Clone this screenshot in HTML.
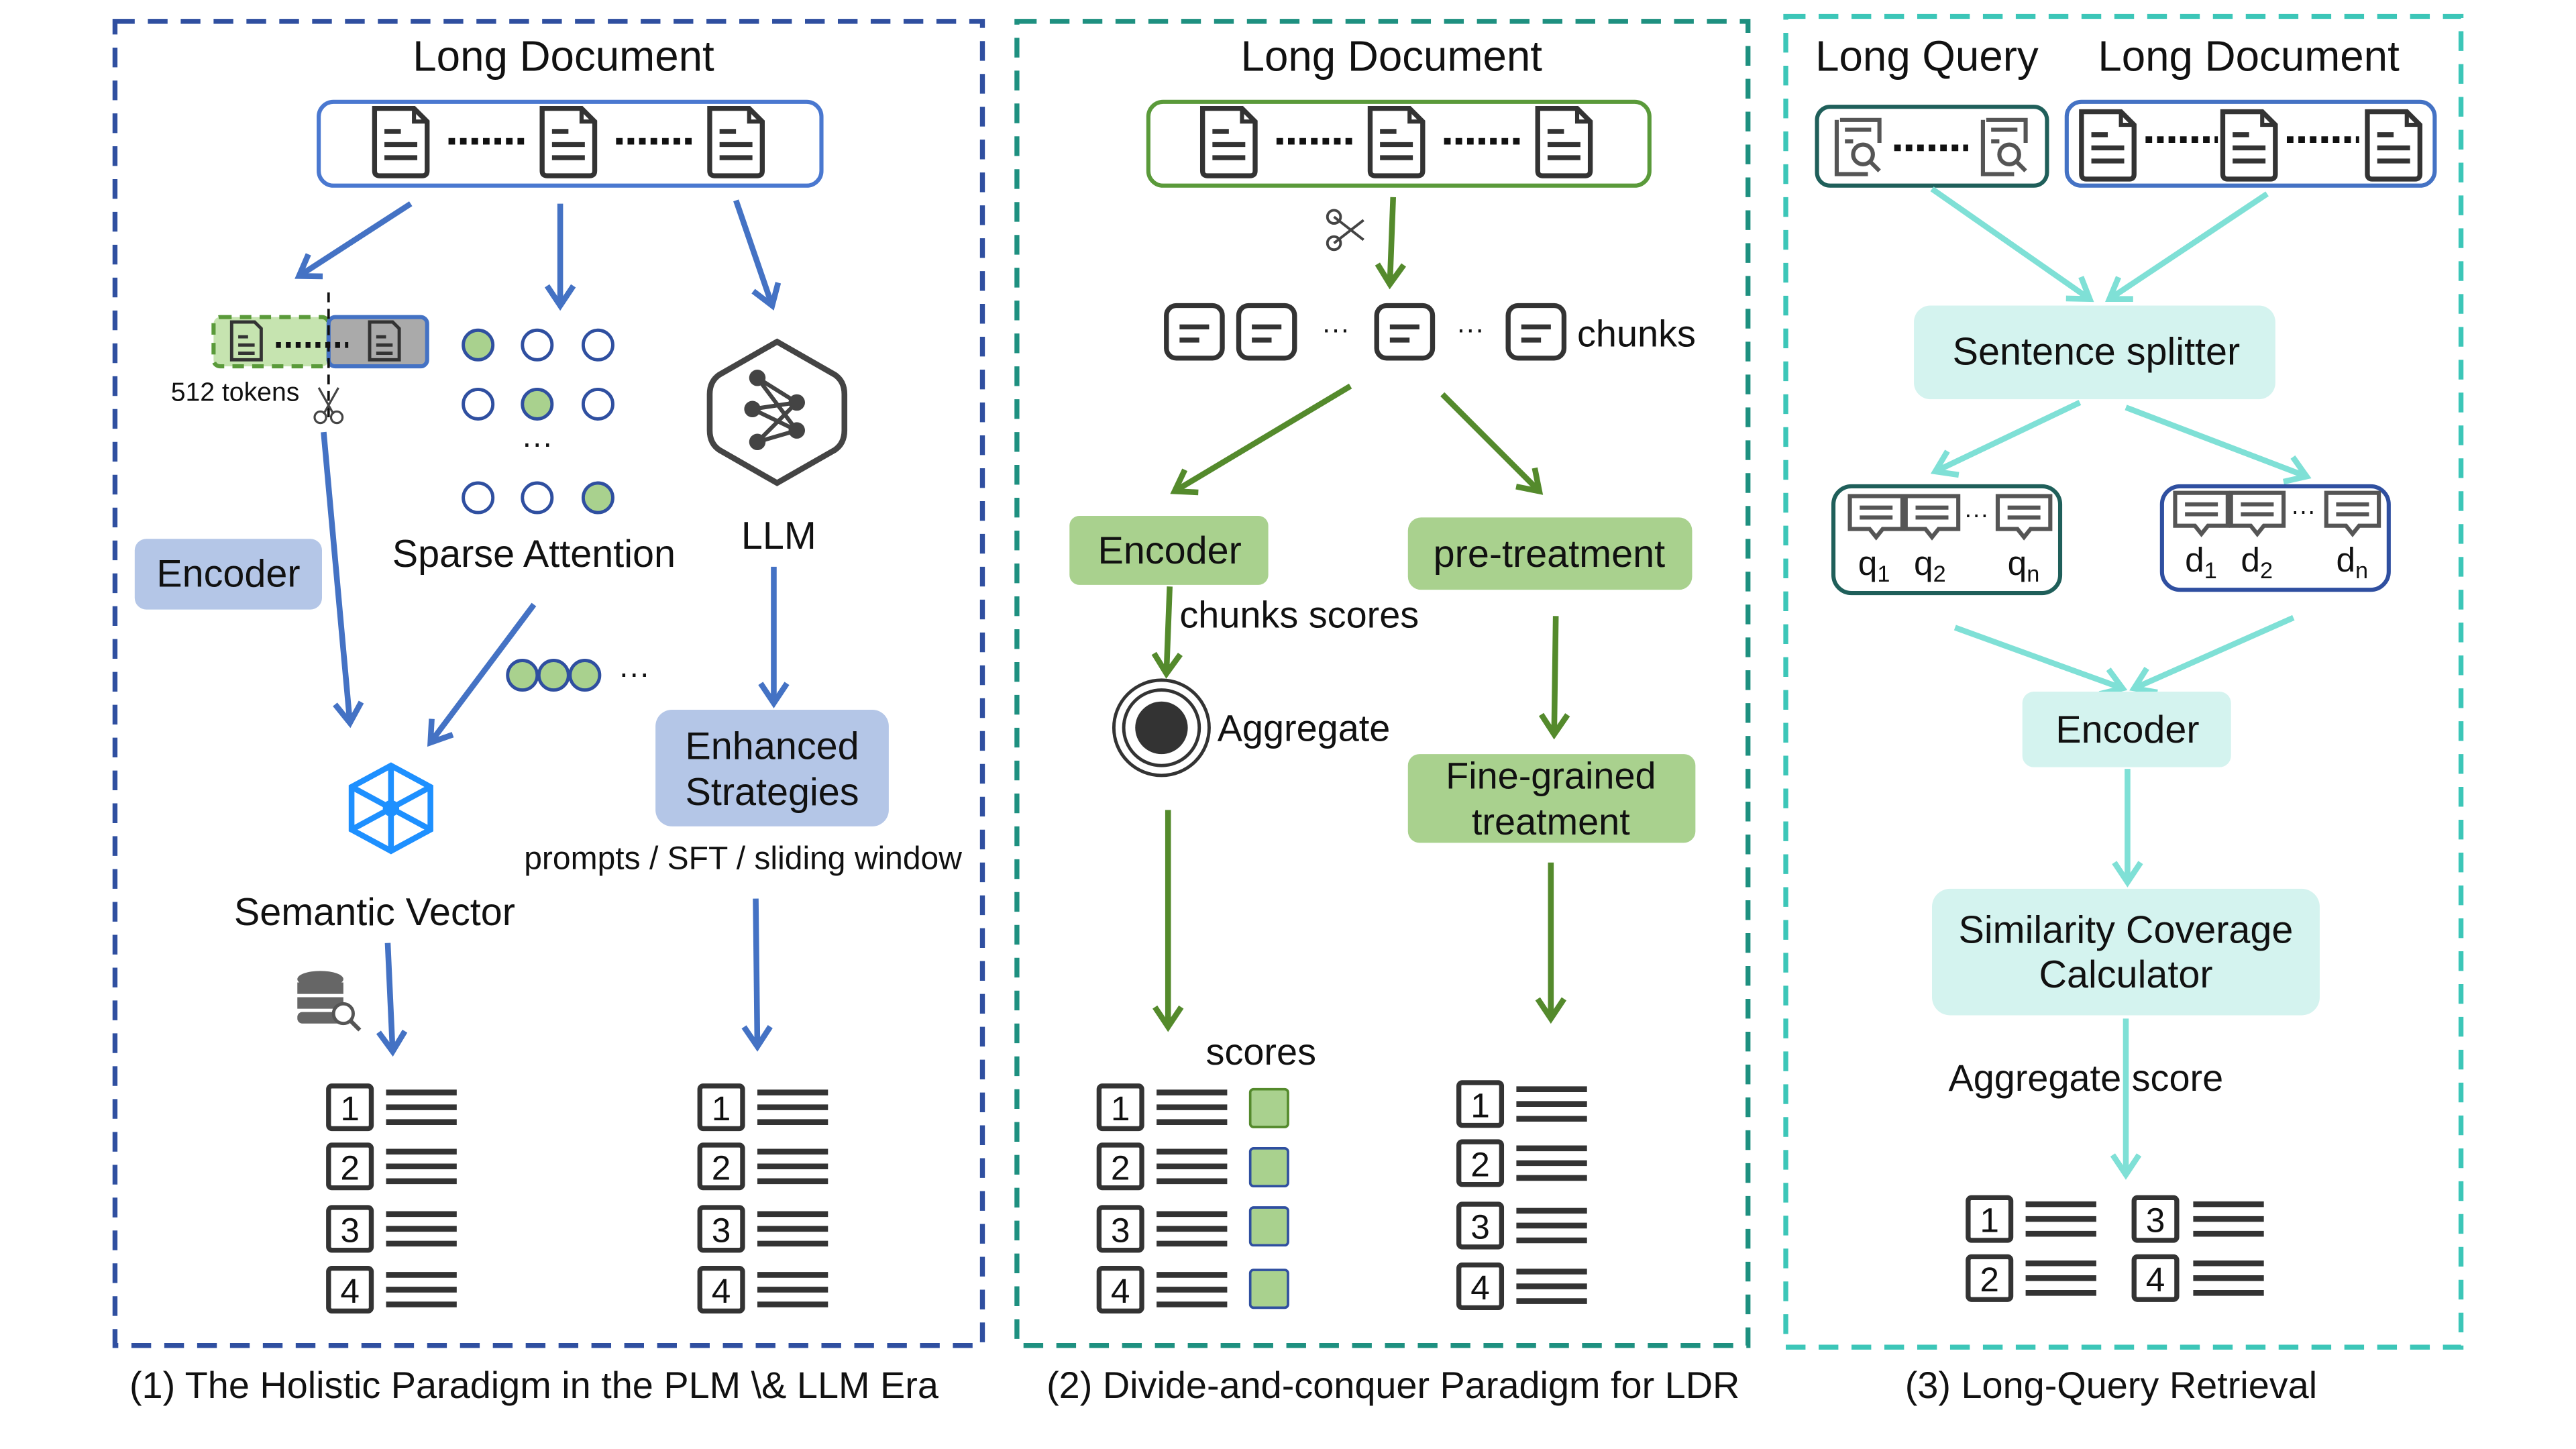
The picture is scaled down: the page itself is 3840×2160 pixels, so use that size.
<!DOCTYPE html>
<html><head><meta charset="utf-8"><style>
html,body{margin:0;padding:0;background:#fff;}
svg{display:block;}
text{font-family:"Liberation Sans",Arial,sans-serif;fill:#111;}
</style></head><body>
<svg width="3840" height="2160" viewBox="0 0 1568 882" preserveAspectRatio="none" xmlns="http://www.w3.org/2000/svg">
<defs>
<marker id="mb" markerUnits="userSpaceOnUse" markerWidth="30" markerHeight="30" refX="15" refY="15" orient="auto"><path d="M3,7 L15,15 L3,23" fill="none" stroke="#4472c4" stroke-width="3.5"/></marker>
<marker id="mg" markerUnits="userSpaceOnUse" markerWidth="30" markerHeight="30" refX="15" refY="15" orient="auto"><path d="M3,7 L15,15 L3,23" fill="none" stroke="#548a2c" stroke-width="3.5"/></marker>
<marker id="mt" markerUnits="userSpaceOnUse" markerWidth="30" markerHeight="30" refX="15" refY="15" orient="auto"><path d="M3,7 L15,15 L3,23" fill="none" stroke="#7fe0d6" stroke-width="3.5"/></marker>
<g id="doc"><path d="M-16,-20 L8,-20 L16,-12 L16,18 Q16,21 13,21 L-13,21 Q-16,21 -16,18 Z" fill="#fff" stroke="#333" stroke-width="3"/><path d="M8,-20 L8,-12 L16,-12" fill="none" stroke="#333" stroke-width="2.5"/><path d="M-10,-6 H0 M-10,2 H10 M-10,10 H10" stroke="#333" stroke-width="3"/></g>
<g id="sdoc"><path d="M-9,-12 L5,-12 L9,-8 L9,11 L-9,11 Z" fill="none" stroke="#333" stroke-width="2"/><path d="M-5,-3 H1 M-5,2 H5 M-5,7 H5" stroke="#333" stroke-width="2"/></g>
<g id="chunk"><rect x="-17" y="-16" width="34" height="32" rx="6" fill="#fff" stroke="#333" stroke-width="3"/><path d="M-9,-3 H9 M-9,5 H3" stroke="#333" stroke-width="3"/></g>
<g id="lines"><path d="M0,-9 H43 M0,0 H43 M0,9 H43" stroke="#333" stroke-width="3.5"/></g>
<g id="qicon"><path d="M-11,-16 H13 V-2 M-13,-16 V17 H6" fill="none" stroke="#555" stroke-width="2.5"/><path d="M-8,-10 H8 M-8,-3 H-3" stroke="#555" stroke-width="2.5"/><circle cx="3" cy="5" r="6" fill="none" stroke="#555" stroke-width="2.5"/><path d="M7,9 L13,15" stroke="#555" stroke-width="2.5"/></g>
<g id="bub"><path d="M-16,-14 H16 V6 H4 L0,11 L-4,6 H-16 Z" fill="#fff" stroke="#555" stroke-width="2.5"/><path d="M-10,-7 H10 M-10,-1 H10" stroke="#555" stroke-width="2.5"/></g>
</defs>

<rect x="70" y="13" width="528" height="806" fill="none" stroke="#2f4fa0" stroke-width="3" stroke-dasharray="12,8"/>
<rect x="619" y="13" width="445" height="806" fill="none" stroke="#1e9080" stroke-width="3" stroke-dasharray="12,8"/>
<rect x="1087" y="10" width="411" height="810" fill="none" stroke="#3cc6b8" stroke-width="3" stroke-dasharray="12,8"/>

<!-- Panel 1 -->
<text x="343" y="43" font-size="26" text-anchor="middle">Long Document</text>
<rect x="194" y="62" width="306" height="51" rx="9" fill="#fff" stroke="#4a78d0" stroke-width="2.5"/>
<use href="#doc" x="244" y="86"/><use href="#doc" x="346" y="86"/><use href="#doc" x="448" y="86"/>
<path d="M273,86 H320 M375,86 H422" stroke="#111" stroke-width="4" stroke-dasharray="4,3"/>
<line x1="250" y1="124" x2="182" y2="168" stroke="#4472c4" stroke-width="3.5" marker-end="url(#mb)"/>
<line x1="341" y1="124" x2="341" y2="186" stroke="#4472c4" stroke-width="3.5" marker-end="url(#mb)"/>
<line x1="448" y1="122" x2="470" y2="186" stroke="#4472c4" stroke-width="3.5" marker-end="url(#mb)"/>
<rect x="130" y="193" width="70" height="30" rx="4" fill="#c6e4b0" stroke="#5a9a3a" stroke-width="2.5" stroke-dasharray="7,5"/>
<rect x="200" y="193" width="60" height="30" rx="4" fill="#aaa" stroke="#4472c4" stroke-width="2.5"/>
<use href="#sdoc" x="150" y="208"/><use href="#sdoc" x="234" y="208"/>
<path d="M168,210 H212" stroke="#111" stroke-width="3.5" stroke-dasharray="3,3"/>
<line x1="200" y1="178" x2="200" y2="256" stroke="#111" stroke-width="1.5" stroke-dasharray="6,4"/>
<text x="104" y="244" font-size="16">512 tokens</text>
<g stroke="#444" stroke-width="1.3" fill="none"><path d="M194,236 L203,252 M206,236 L197,252"/><circle cx="195" cy="254" r="3.5"/><circle cx="205" cy="254" r="3.5"/></g>
<g stroke="#2f4fa0" stroke-width="2" fill="#fff">
<circle cx="291" cy="210" r="9" fill="#a9d18e"/><circle cx="327" cy="210" r="9"/><circle cx="364" cy="210" r="9"/>
<circle cx="291" cy="246" r="9"/><circle cx="327" cy="246" r="9" fill="#a9d18e"/><circle cx="364" cy="246" r="9"/>
<circle cx="291" cy="303" r="9"/><circle cx="327" cy="303" r="9"/><circle cx="364" cy="303" r="9" fill="#a9d18e"/>
</g>
<text x="327" y="276" font-size="19" text-anchor="middle">···</text>
<text x="325" y="345" font-size="23.5" text-anchor="middle">Sparse Attention</text>
<path d="M473,208 L508,228 Q514,232 514,240 L514,262 Q514,270 508,274 L473,294 L438,274 Q432,270 432,262 L432,240 Q432,232 438,228 Z" fill="#fff" stroke="#444" stroke-width="3.5"/>
<g stroke="#444" stroke-width="2.5"><path d="M461,230 L485,245 M461,230 L485,262 M458,249 L485,245 M458,249 L485,262 M461,269 L485,245 M461,269 L485,262"/></g>
<g fill="#444"><circle cx="461" cy="230" r="5"/><circle cx="458" cy="249" r="5"/><circle cx="461" cy="269" r="5"/><circle cx="485" cy="245" r="5"/><circle cx="485" cy="262" r="5"/></g>
<text x="474" y="334" font-size="23.5" text-anchor="middle">LLM</text>
<rect x="82" y="328" width="114" height="43" rx="7" fill="#b4c6e7"/>
<text x="139" y="357" font-size="23.5" text-anchor="middle">Encoder</text>
<line x1="197" y1="263" x2="213" y2="440" stroke="#4472c4" stroke-width="3.5" marker-end="url(#mb)"/>
<line x1="325" y1="368" x2="262" y2="452" stroke="#4472c4" stroke-width="3.5" marker-end="url(#mb)"/>
<g stroke="#2f4fa0" stroke-width="2" fill="#a9d18e"><circle cx="318" cy="411" r="9"/><circle cx="337" cy="411" r="9"/><circle cx="356" cy="411" r="9"/></g>
<text x="386" y="416" font-size="19" text-anchor="middle">···</text>
<line x1="471" y1="345" x2="471" y2="428" stroke="#4472c4" stroke-width="3.5" marker-end="url(#mb)"/>
<rect x="399" y="432" width="142" height="71" rx="10" fill="#b4c6e7"/>
<text x="470" y="462" font-size="23.5" text-anchor="middle">Enhanced</text>
<text x="470" y="490" font-size="23.5" text-anchor="middle">Strategies</text>
<text x="319" y="529" font-size="19.6">prompts / SFT / sliding window</text>
<g stroke="#1e90ff" stroke-width="3.5" fill="none"><path d="M238,466 L262,479 L262,505 L238,518 L214,505 L214,479 Z"/><path d="M238,492 L238,466 M238,492 L214,505 M238,492 L262,505 M238,492 L214,479 M238,492 L262,479 M238,492 L238,518"/></g>
<circle cx="238" cy="492" r="5" fill="#1e90ff"/>
<text x="228" y="563" font-size="23.5" text-anchor="middle">Semantic Vector</text>
<g fill="#666"><ellipse cx="195" cy="596" rx="14" ry="5"/><rect x="181" y="598" width="28" height="7"/><rect x="181" y="607" width="28" height="7"/><rect x="181" y="616" width="28" height="7" rx="3"/></g>
<circle cx="209" cy="617" r="6" fill="#fff" stroke="#555" stroke-width="2"/><line x1="213" y1="621" x2="219" y2="627" stroke="#555" stroke-width="2.5"/>
<line x1="236" y1="574" x2="239" y2="640" stroke="#4472c4" stroke-width="3.5" marker-end="url(#mb)"/>
<line x1="460" y1="547" x2="461" y2="637" stroke="#4472c4" stroke-width="3.5" marker-end="url(#mb)"/>

<g id="L1">
<g font-size="21" text-anchor="middle">
<rect x="200" y="661" width="26" height="26" rx="2" fill="#fff" stroke="#333" stroke-width="3"/><text x="213" y="682">1</text>
<rect x="200" y="697" width="26" height="26" rx="2" fill="#fff" stroke="#333" stroke-width="3"/><text x="213" y="718">2</text>
<rect x="200" y="735" width="26" height="26" rx="2" fill="#fff" stroke="#333" stroke-width="3"/><text x="213" y="756">3</text>
<rect x="200" y="772" width="26" height="26" rx="2" fill="#fff" stroke="#333" stroke-width="3"/><text x="213" y="793">4</text>
</g>
<use href="#lines" x="235" y="674"/><use href="#lines" x="235" y="710"/><use href="#lines" x="235" y="748"/><use href="#lines" x="235" y="785"/>
</g>
<use href="#L1" x="226" y="0"/>

<!-- Panel 2 -->
<text x="847" y="43" font-size="26" text-anchor="middle">Long Document</text>
<rect x="699" y="62" width="305" height="51" rx="9" fill="#fff" stroke="#5a9a3a" stroke-width="2.5"/>
<use href="#doc" x="748" y="86"/><use href="#doc" x="850" y="86"/><use href="#doc" x="952" y="86"/>
<path d="M777,86 H824 M879,86 H926" stroke="#111" stroke-width="4" stroke-dasharray="4,3"/>
<g stroke="#444" stroke-width="1.6" fill="none"><path d="M812,132 L830,146 M812,148 L830,134"/><circle cx="812" cy="132" r="4"/><circle cx="812" cy="148" r="4"/></g>
<line x1="848" y1="120" x2="846" y2="173" stroke="#548a2c" stroke-width="3.5" marker-end="url(#mg)"/>
<use href="#chunk" x="727" y="202"/><use href="#chunk" x="771" y="202"/><use href="#chunk" x="855" y="202"/><use href="#chunk" x="935" y="202"/>
<text x="813" y="206" font-size="17" text-anchor="middle">···</text>
<text x="895" y="206" font-size="17" text-anchor="middle">···</text>
<text x="960" y="211" font-size="22.8">chunks</text>
<line x1="822" y1="235" x2="715" y2="299" stroke="#548a2c" stroke-width="3.5" marker-end="url(#mg)"/>
<line x1="878" y1="240" x2="937" y2="299" stroke="#548a2c" stroke-width="3.5" marker-end="url(#mg)"/>
<rect x="651" y="314" width="121" height="42" rx="6" fill="#a9d18e"/>
<text x="712" y="343" font-size="23.5" text-anchor="middle">Encoder</text>
<rect x="857" y="315" width="173" height="44" rx="8" fill="#a9d18e"/>
<text x="943" y="345" font-size="23.5" text-anchor="middle">pre-treatment</text>
<text x="718" y="382" font-size="22.8">chunks scores</text>
<line x1="712" y1="357" x2="710" y2="410" stroke="#548a2c" stroke-width="3.5" marker-end="url(#mg)"/>
<circle cx="707" cy="443" r="29" fill="#fff" stroke="#333" stroke-width="2"/>
<circle cx="707" cy="443" r="23" fill="#fff" stroke="#333" stroke-width="2"/>
<circle cx="707" cy="443" r="16" fill="#333"/>
<text x="741" y="451" font-size="22.8">Aggregate</text>
<line x1="947" y1="375" x2="946" y2="447" stroke="#548a2c" stroke-width="3.5" marker-end="url(#mg)"/>
<rect x="857" y="459" width="175" height="54" rx="7" fill="#a9d18e"/>
<text x="944" y="480" font-size="22.8" text-anchor="middle">Fine-grained</text>
<text x="944" y="508" font-size="22.8" text-anchor="middle">treatment</text>
<line x1="711" y1="493" x2="711" y2="625" stroke="#548a2c" stroke-width="3.5" marker-end="url(#mg)"/>
<line x1="944" y1="525" x2="944" y2="620" stroke="#548a2c" stroke-width="3.5" marker-end="url(#mg)"/>
<text x="734" y="648" font-size="22.8">scores</text>
<use href="#L1" x="469" y="0"/>
<use href="#L1" x="688" y="-2"/>
<g fill="#a9d18e" stroke="#2f4fa0" stroke-width="1.5">
<rect x="761" y="663" width="23" height="23" rx="2" stroke="#548a2c"/><rect x="761" y="699" width="23" height="23" rx="2"/><rect x="761" y="735" width="23" height="23" rx="2"/><rect x="761" y="773" width="23" height="23" rx="2"/>
</g>

<!-- Panel 3 -->
<text x="1105" y="43" font-size="26">Long Query</text>
<text x="1277" y="43" font-size="26">Long Document</text>
<rect x="1106" y="65" width="140" height="48" rx="8" fill="#fff" stroke="#1f5f5a" stroke-width="2.5"/>
<use href="#qicon" x="1131" y="89"/><use href="#qicon" x="1220" y="89"/>
<path d="M1153,90 H1198" stroke="#111" stroke-width="4" stroke-dasharray="4,3"/>
<rect x="1258" y="62" width="224" height="51" rx="9" fill="#fff" stroke="#4472c4" stroke-width="2.5"/>
<use href="#doc" x="1283" y="88"/><use href="#doc" x="1369" y="88"/><use href="#doc" x="1457" y="88"/>
<path d="M1306,85 H1350 M1392,85 H1436" stroke="#111" stroke-width="4" stroke-dasharray="4,3"/>
<line x1="1176" y1="115" x2="1272" y2="182" stroke="#7fe0d6" stroke-width="3.5" marker-end="url(#mt)"/>
<line x1="1380" y1="118" x2="1284" y2="182" stroke="#7fe0d6" stroke-width="3.5" marker-end="url(#mt)"/>
<rect x="1165" y="186" width="220" height="57" rx="10" fill="#d4f3ef"/>
<text x="1276" y="222" font-size="23.5" text-anchor="middle">Sentence splitter</text>
<line x1="1266" y1="245" x2="1178" y2="287" stroke="#7fe0d6" stroke-width="3.5" marker-end="url(#mt)"/>
<line x1="1294" y1="248" x2="1404" y2="290" stroke="#7fe0d6" stroke-width="3.5" marker-end="url(#mt)"/>
<rect x="1116" y="296" width="138" height="65" rx="11" fill="#fff" stroke="#1f5f5a" stroke-width="2.5"/>
<use href="#bub" x="1142" y="316"/><use href="#bub" x="1176" y="316"/><use href="#bub" x="1232" y="316"/>
<text x="1203" y="318" font-size="15" text-anchor="middle">···</text>
<text x="1131" y="350" font-size="21">q<tspan font-size="14" dy="4">1</tspan></text>
<text x="1165" y="350" font-size="21">q<tspan font-size="14" dy="4">2</tspan></text>
<text x="1222" y="350" font-size="21">q<tspan font-size="14" dy="4">n</tspan></text>
<rect x="1316" y="296" width="138" height="63" rx="11" fill="#fff" stroke="#2f4fa0" stroke-width="2.5"/>
<use href="#bub" x="1340" y="314"/><use href="#bub" x="1374" y="314"/><use href="#bub" x="1432" y="314"/>
<text x="1402" y="316" font-size="15" text-anchor="middle">···</text>
<text x="1330" y="348" font-size="21">d<tspan font-size="14" dy="4">1</tspan></text>
<text x="1364" y="348" font-size="21">d<tspan font-size="14" dy="4">2</tspan></text>
<text x="1422" y="348" font-size="21">d<tspan font-size="14" dy="4">n</tspan></text>
<line x1="1190" y1="382" x2="1292" y2="419" stroke="#7fe0d6" stroke-width="3.5" marker-end="url(#mt)"/>
<line x1="1396" y1="376" x2="1299" y2="419" stroke="#7fe0d6" stroke-width="3.5" marker-end="url(#mt)"/>
<rect x="1231" y="421" width="127" height="46" rx="7" fill="#d4f3ef"/>
<text x="1295" y="452" font-size="23.5" text-anchor="middle">Encoder</text>
<line x1="1295" y1="468" x2="1295" y2="537" stroke="#7fe0d6" stroke-width="3.5" marker-end="url(#mt)"/>
<rect x="1176" y="541" width="236" height="77" rx="11" fill="#d4f3ef"/>
<text x="1294" y="574" font-size="23.5" text-anchor="middle">Similarity Coverage</text>
<text x="1294" y="601" font-size="23.5" text-anchor="middle">Calculator</text>
<line x1="1294" y1="620" x2="1294" y2="715" stroke="#7fe0d6" stroke-width="3.5" marker-end="url(#mt)"/>
<text x="1186" y="664" font-size="22.8">Aggregate score</text>
<g font-size="21" text-anchor="middle">
<rect x="1198" y="729" width="26" height="26" rx="2" fill="#fff" stroke="#333" stroke-width="3"/><text x="1211" y="750">1</text>
<rect x="1198" y="765" width="26" height="26" rx="2" fill="#fff" stroke="#333" stroke-width="3"/><text x="1211" y="786">2</text>
<rect x="1299" y="729" width="26" height="26" rx="2" fill="#fff" stroke="#333" stroke-width="3"/><text x="1312" y="750">3</text>
<rect x="1299" y="765" width="26" height="26" rx="2" fill="#fff" stroke="#333" stroke-width="3"/><text x="1312" y="786">4</text>
</g>
<use href="#lines" x="1233" y="742"/><use href="#lines" x="1233" y="778"/><use href="#lines" x="1335" y="742"/><use href="#lines" x="1335" y="778"/>

<text x="325" y="851" font-size="22.8" text-anchor="middle">(1) The Holistic Paradigm in the PLM \&amp; LLM Era</text>
<text x="848" y="851" font-size="22.8" text-anchor="middle">(2) Divide-and-conquer Paradigm for LDR</text>
<text x="1285" y="851" font-size="22.8" text-anchor="middle">(3) Long-Query Retrieval</text>
</svg>
</body></html>
